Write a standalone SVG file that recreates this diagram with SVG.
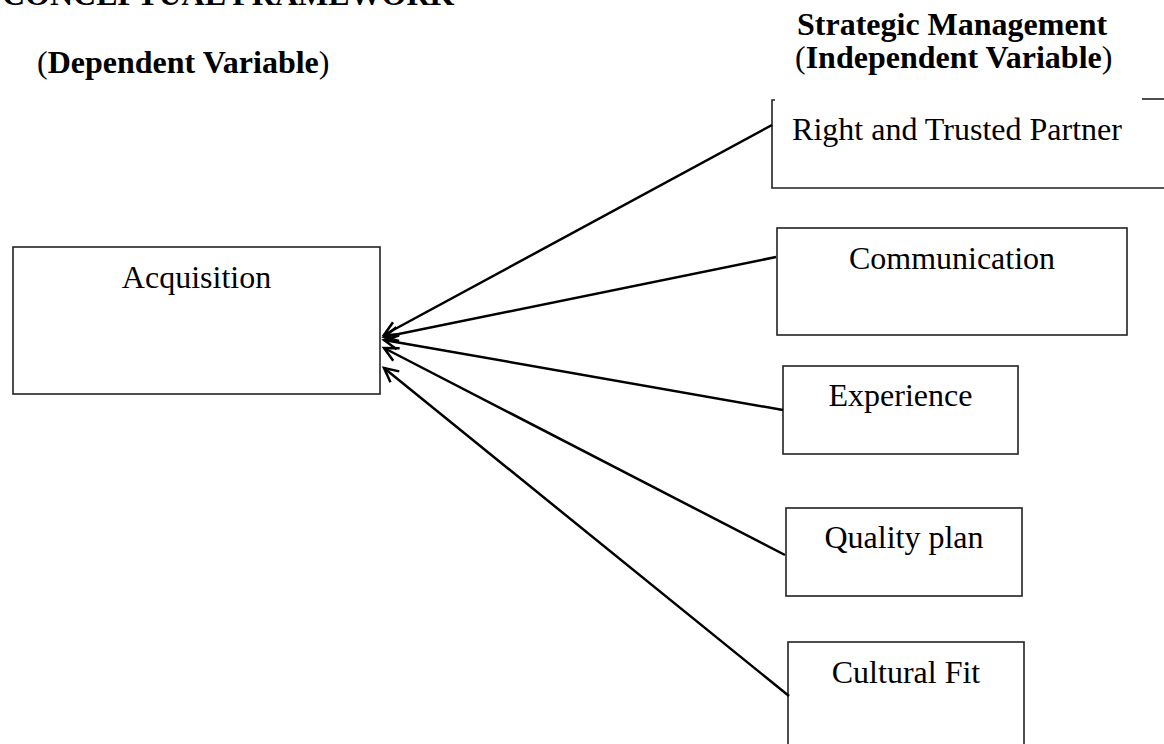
<svg xmlns="http://www.w3.org/2000/svg" width="1164" height="744" viewBox="0 0 1164 744">
  <style>
    .bg { fill: #ffffff; }
    .box { fill: #ffffff; stroke: #222222; stroke-width: 1.6; }
    .edge { fill: none; stroke: #222222; stroke-width: 1.6; }
    .label { font-family: "Liberation Serif", "Times New Roman", serif; font-size: 32px; fill: #000000; }
    .head { font-family: "Liberation Serif", "Times New Roman", serif; font-size: 32px; font-weight: bold; fill: #000000; }
    .paren { font-weight: normal; }
    .conn { fill: none; stroke: #000000; stroke-width: 2.5; marker-end: url(#openArrow); }
  </style>
  <defs>
    <marker id="openArrow" markerUnits="userSpaceOnUse" markerWidth="20" markerHeight="16" refX="15" refY="7" orient="auto" overflow="visible">
      <path d="M1,0 L15,7 L1,14" fill="none" stroke="#000000" stroke-width="2.5"/>
    </marker>
  </defs>

  <rect class="bg" x="0" y="0" width="1164" height="744"/>

  <!-- Headings (the page title runs off the top edge) -->
  <g id="headings">
    <text class="head" x="2" y="5">CONCEPTUAL FRAMEWORK</text>
    <text class="head" x="37" y="73"><tspan class="paren">(</tspan>Dependent Variable<tspan class="paren">)</tspan></text>
    <text class="head" x="797" y="35">Strategic Management</text>
    <text class="head" x="795" y="68"><tspan class="paren">(</tspan>Independent Variable<tspan class="paren">)</tspan></text>
  </g>

  <!-- Dependent variable -->
  <g id="node-acquisition">
    <rect class="box" x="13" y="247" width="367" height="147"/>
    <text class="label" x="196.5" y="288" text-anchor="middle">Acquisition</text>
  </g>

  <!-- Independent variables -->
  <g id="node-partner">
    <path class="edge" d="M775,100 H772 V188 H1164"/>
    <path class="edge" d="M1142,99 H1164"/>
    <text class="label" x="957" y="140" text-anchor="middle">Right and Trusted Partner</text>
  </g>

  <g id="node-communication">
    <rect class="box" x="777" y="228" width="350" height="107"/>
    <text class="label" x="952" y="269" text-anchor="middle">Communication</text>
  </g>

  <g id="node-experience">
    <rect class="box" x="783" y="366" width="235" height="88"/>
    <text class="label" x="900.5" y="406" text-anchor="middle">Experience</text>
  </g>

  <g id="node-quality">
    <rect class="box" x="786" y="508" width="236" height="88"/>
    <text class="label" x="904" y="548" text-anchor="middle">Quality plan</text>
  </g>

  <g id="node-cultural">
    <rect class="box" x="788" y="642" width="236" height="110"/>
    <text class="label" x="906" y="683" text-anchor="middle">Cultural Fit</text>
  </g>

  <!-- Connectors -->
  <g id="connectors">
    <line class="conn" x1="772" y1="125" x2="384" y2="335"/>
    <line class="conn" x1="776" y1="257" x2="384" y2="337"/>
    <line class="conn" x1="783" y1="410" x2="384" y2="340"/>
    <line class="conn" x1="785" y1="555" x2="384" y2="348"/>
    <line class="conn" x1="789" y1="696" x2="384" y2="368"/>
  </g>
</svg>
